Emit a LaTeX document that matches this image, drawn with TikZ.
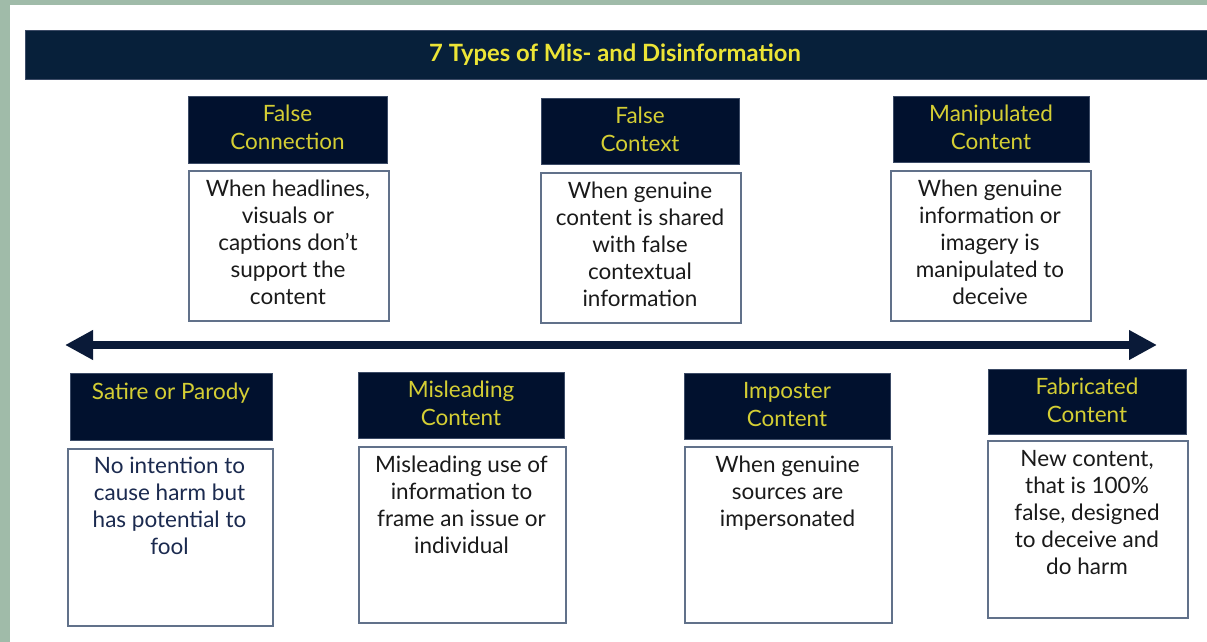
\documentclass[tikz,border=0pt]{standalone}
\usepackage{fontspec}
\setmainfont{Lato}
\usetikzlibrary{arrows.meta}
\definecolor{sage}{HTML}{A0BBA9}
\definecolor{barnavy}{HTML}{07203A}
\definecolor{hdrnavy}{HTML}{01112E}
\definecolor{hdredge}{HTML}{3C4B66}
\definecolor{hdryellow}{HTML}{D4CE34}
\definecolor{ttlyellow}{HTML}{ECE436}
\definecolor{boxedge}{HTML}{61718A}
\definecolor{ink}{HTML}{1A1A1A}
\definecolor{navyink}{HTML}{1B2A4F}
\definecolor{arrownavy}{HTML}{0A1A38}
\tikzset{
  hdr/.style={fill=hdrnavy, draw=hdredge, line width=0.8pt, inner sep=0pt, anchor=north west},
  bodybox/.style={fill=white, draw=boxedge, line width=1.6pt, inner sep=0pt, anchor=north west},
  hdrtext/.style={text=hdryellow, font=\fontsize{22.5}{28}\selectfont, align=center, anchor=base, inner sep=0pt},
  bodytext/.style={text=ink, font=\fontsize{22.5}{27}\selectfont, align=center, anchor=base, inner sep=0pt},
  timeline/.style={draw=arrownavy, line width=8pt, {Triangle[length=28pt,width=28pt]}-{Triangle[length=28pt,width=28pt]}}
}
\begin{document}
\begin{tikzpicture}[x=1pt,y=-1pt]
\useasboundingbox (0,0) rectangle (1207,642);
\fill[sage] (0,0) rectangle (1207,642);
\fill[white] (10,5) rectangle (1207,642);
% title bar
\node[fill=barnavy, draw=hdredge, line width=0.6pt, inner sep=0pt, anchor=north west, minimum width=1182pt, minimum height=49pt] (bar) at (25,30) {};
\node[text=ttlyellow, font=\fontsize{23.8}{27}\selectfont\bfseries, anchor=base, inner sep=0pt] (ttl) at (615,62) {7 Types of Mis- and Disinformation};
% top row
\node[hdr, minimum width=199pt, minimum height=67pt] (h1) at (188,96) {};
\node[hdrtext] (h1t) at (287.5,149) {False\\Connection};
\node[bodybox, minimum width=200pt, minimum height=150pt] (b1) at (188,170) {};
\node[bodytext] (b1t) at (288,304.5) {When headlines,\\visuals or\\captions don’t\\support the\\content};
\node[hdr, minimum width=198pt, minimum height=66pt] (h2) at (541,98) {};
\node[hdrtext] (h2t) at (640,151) {False\\Context};
\node[bodybox, minimum width=200pt, minimum height=150pt] (b2) at (540,172) {};
\node[bodytext] (b2t) at (640,306.5) {When genuine\\content is shared\\with false\\contextual\\information};
\node[hdr, minimum width=196pt, minimum height=66pt] (h3) at (893,96) {};
\node[hdrtext] (h3t) at (991,149) {Manipulated\\Content};
\node[bodybox, minimum width=200pt, minimum height=150pt] (b3) at (890,170) {};
\node[bodytext] (b3t) at (990,304.5) {When genuine\\information or\\imagery is\\manipulated to\\deceive};
% timeline
\coordinate (la) at (65,345);
\coordinate (ra) at (1157,345);
\draw[timeline] (la) -- (ra);
% bottom row
\node[hdr, minimum width=202pt, minimum height=67pt] (h4) at (70,373) {};
\node[hdrtext] (h4t) at (171,399) {Satire or Parody};
\node[bodybox, minimum width=205pt, minimum height=177pt] (b4) at (67,448) {};
\node[bodytext, text=navyink] (b4t) at (169.5,554.5) {No intention to\\cause harm but\\has potential to\\fool};
\node[hdr, minimum width=206pt, minimum height=66pt] (h5) at (358,372) {};
\node[hdrtext] (h5t) at (461,425) {Misleading\\Content};
\node[bodybox, minimum width=207pt, minimum height=176pt] (b5) at (358,446) {};
\node[bodytext] (b5t) at (461.5,553.5) {Misleading use of\\information to\\frame an issue or\\individual};
\node[hdr, minimum width=206pt, minimum height=66pt] (h6) at (684,373) {};
\node[hdrtext] (h6t) at (787,426) {Imposter\\Content};
\node[bodybox, minimum width=207pt, minimum height=176pt] (b6) at (684,446) {};
\node[bodytext] (b6t) at (787.5,526.5) {When genuine\\sources are\\impersonated};
\node[hdr, minimum width=198pt, minimum height=65pt] (h7) at (988,369) {};
\node[hdrtext] (h7t) at (1087,422) {Fabricated\\Content};
\node[bodybox, minimum width=200pt, minimum height=177pt] (b7) at (987,440) {};
\node[bodytext] (b7t) at (1087,574.5) {New content,\\that is 100\%\\false, designed\\to deceive and\\do harm};
\end{tikzpicture}
\end{document}
